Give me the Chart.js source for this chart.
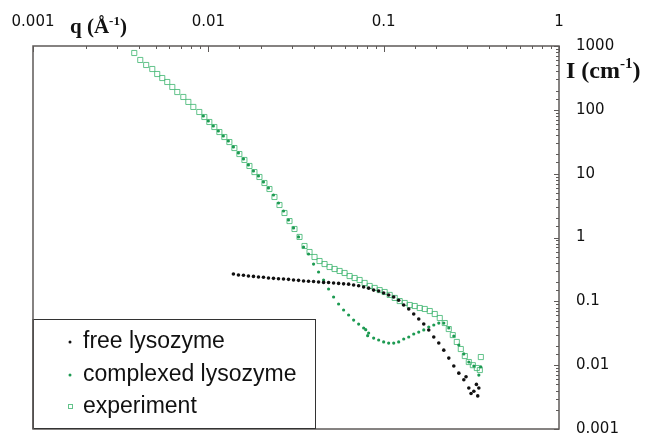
<!DOCTYPE html>
<html>
<head>
<meta charset="utf-8">
<script src="https://cdn.jsdelivr.net/npm/chart.js@4.4.1/dist/chart.umd.min.js"></script>
<style>
  html, body { margin: 0; padding: 0; background: #fff; }
  #wrap { width: 647px; height: 438px; position: relative; }
</style>
</head>
<body>
<div id="wrap"><canvas id="c"></canvas></div>
<script>
// free lysozyme (black dots)
const qFree = [0.01390,0.01485,0.01586,0.01693,0.01809,0.01932,0.02063,0.02203,0.02353,0.02513,
  0.02684,0.02866,0.03061,0.03269,0.03492,0.03729,0.03983,0.04253,0.04543,0.04851,
  0.05181,0.05533,0.05910,0.06312,0.06741,0.07199,0.07689,0.08211,0.08769,0.09366,
  0.1000,0.1068,0.1141,0.1218,0.1301,0.1390,0.1484,0.1585,0.1693,0.1808,
  0.1931,0.2062,0.2202,0.2352,0.2512,0.2683,0.2865,0.3060,0.3268,0.3490,
  0.2950,0.3150,0.3380,0.3440];
const iFree = [0.268,0.258,0.256,0.249,0.246,0.240,0.238,0.232,0.229,0.226,
  0.224,0.221,0.216,0.213,0.208,0.206,0.204,0.201,0.198,0.197,
  0.194,0.191,0.188,0.186,0.180,0.175,0.168,0.161,0.150,0.145,
  0.135,0.126,0.117,0.104,0.0876,0.0759,0.0633,0.0528,0.0441,0.0355,
  0.0276,0.0222,0.0172,0.0129,0.0097,0.0075,0.0059,0.0044,0.0039,0.0044,
  0.0066,0.0036,0.0050,0.0033];

// complexed lysozyme (green dots)
const qCplx = [0.00937,0.01000,0.01068,0.01141,0.01218,0.01301,0.01390,0.01485,0.01586,0.01693,
  0.01809,0.01932,0.02063,0.02203,0.02353,0.02513,0.02684,0.02866,0.03061,0.03269,
  0.03492,0.03729,0.03983,0.04253,0.04543,0.04851,0.05181,0.05533,0.05910,0.06312,
  0.06741,0.07199,0.07689,0.08211,0.08769,0.09366,0.1000,0.1068,0.1141,0.1218,
  0.1301,0.1390,0.1484,0.1585,0.1693,0.1808,0.1931,0.2062,0.2202,0.2352,
  0.2512,0.2683,0.2865,0.3060,0.3268,0.3490,0.3580,0.0790,0.0810];
const iCplx = [80.1,66.8,55.8,46.6,38.9,32.5,26.2,21.1,17.0,13.7,
  11.0,9.19,7.40,5.96,4.63,3.47,2.60,1.88,1.41,1.02,
  0.710,0.551,0.384,0.288,0.216,0.156,0.117,0.0908,0.0731,0.0611,
  0.0509,0.0441,0.0382,0.0319,0.0266,0.0248,0.0231,0.0222,0.0222,0.0231,
  0.0257,0.0276,0.0308,0.0330,0.0356,0.0396,0.0426,0.0457,0.0457,0.0382,
  0.0286,0.0207,0.0150,0.0112,0.0097,0.0070,0.0094,0.0360,0.0290];

// experiment (hollow squares)
const qExp = [0.00378,0.00409,0.00442,0.00479,0.00511,0.00546,0.00583,0.00623,0.00665,0.00720,
  0.00769,0.00821,0.00888,0.00949,0.01013,0.01082,0.01156,0.01234,0.01318,0.01408,
  0.01503,0.01606,0.01715,0.01832,0.01956,0.02089,0.02231,0.02383,0.02545,0.02718,
  0.02903,0.03100,0.03311,0.03536,0.03777,0.04033,0.04308,0.04601,0.04913,0.05248,
  0.05605,0.05985,0.06392,0.06827,0.07291,0.07787,0.08318,0.08884,0.09487,0.1013,
  0.1082,0.1156,0.1234,0.1318,0.1408,0.1503,0.1606,0.1715,0.1832,0.1956,
  0.2089,0.2231,0.2351,0.2479,0.2613,0.2754,0.2903,0.3059,0.3226,0.3399,
  0.3536,0.3583];
const iExp = [777,604,504,436,364,315,273,228,190,159,
  133,111,92.5,77.2,64.5,53.8,44.9,37.5,31.3,25.2,
  20.3,16.4,13.2,10.6,8.87,7.14,5.75,4.31,3.23,2.42,
  1.81,1.36,1.02,0.736,0.593,0.495,0.428,0.384,0.345,0.321,
  0.299,0.278,0.249,0.232,0.216,0.194,0.174,0.162,0.150,0.140,
  0.126,0.113,0.101,0.0942,0.0876,0.0845,0.0786,0.0759,0.0705,0.0633,
  0.0548,0.0457,0.0368,0.0296,0.0231,0.0179,0.0139,0.0112,0.0100,0.00902,
  0.00839,0.0134];

const seriesNames = ["free lysozyme","complexed lysozyme","experiment"];

const pts = (qs, is) => qs.map((q, k) => ({x: q, y: is[k]}));
const isDecade = v => { const l = Math.log10(v); return Math.abs(l - Math.round(l)) < 1e-6; };

// tick marks pointing inward, frame, axis titles and the boxed legend
const framePlugin = {
  id: 'frame',
  afterDraw(chart) {
    const ctx = chart.ctx, a = chart.chartArea;
    const xs = chart.scales.x, ys = chart.scales.y;
    ctx.save();
    ctx.strokeStyle = '#5e5a58';
    ctx.lineWidth = 1.5;
    ctx.strokeRect(a.left, a.top, a.right - a.left, a.bottom - a.top);
    ctx.lineWidth = 1;
    ctx.beginPath();
    xs.ticks.forEach(t => {
      const px = Math.round(xs.getPixelForValue(t.value)) + 0.5;
      const len = isDecade(t.value) ? 6 : 3;
      ctx.moveTo(px, a.top); ctx.lineTo(px, a.top + len);
    });
    ys.ticks.forEach(t => {
      const py = Math.round(ys.getPixelForValue(t.value)) + 0.5;
      const len = isDecade(t.value) ? 5 : 3;
      ctx.moveTo(a.right, py); ctx.lineTo(a.right - len, py);
    });
    ctx.stroke();

    // axis titles
    const title = (x, y, main, sup, tail, size) => {
      ctx.fillStyle = '#111';
      ctx.textBaseline = 'alphabetic';
      ctx.textAlign = 'left';
      ctx.font = `bold ${size}px "Liberation Serif"`;
      ctx.fillText(main, x, y);
      x += ctx.measureText(main).width;
      ctx.font = `bold ${Math.round(size * 0.62)}px "Liberation Serif"`;
      ctx.fillText(sup, x, y - size * 0.4);
      x += ctx.measureText(sup).width;
      ctx.font = `bold ${size}px "Liberation Serif"`;
      ctx.fillText(tail, x, y);
    };
    title(70, 33, 'q (Å', '-1', ')', 21);
    title(566, 78, 'I (cm', '-1', ')', 24);

    // legend
    const lx = 33, ly = 319, lw = 282, lh = 109;
    ctx.fillStyle = '#fff';
    ctx.fillRect(lx, ly, lw, lh);
    ctx.strokeStyle = '#333';
    ctx.lineWidth = 1;
    ctx.strokeRect(lx + 0.5, ly + 0.5, lw, lh);
    ctx.strokeStyle = '#5e5a58';
    ctx.lineWidth = 1.5;
    ctx.beginPath(); ctx.moveTo(a.left, ly); ctx.lineTo(a.left, a.bottom); ctx.stroke();
    const rows = [342, 375, 407];
    chart.data.datasets.forEach((ds, k) => {
      const y = rows[k];
      if (ds.pointStyle === 'rect') {
        ctx.strokeStyle = ds.borderColor; ctx.lineWidth = 1;
        ctx.strokeRect(68.5, y - 2.5, 4, 4);
      } else {
        ctx.fillStyle = ds.backgroundColor;
        ctx.beginPath(); ctx.arc(70, y, 1.5, 0, Math.PI * 2); ctx.fill();
      }
      ctx.fillStyle = '#111';
      ctx.font = '23px "Liberation Sans"';
      ctx.textBaseline = 'alphabetic';
      ctx.fillText(ds.label, 83, y + 6);
    });
    ctx.restore();
  }
};

new Chart(document.getElementById('c'), {
  type: 'scatter',
  data: {
    datasets: [
      { label: seriesNames[0], data: pts(qFree, iFree), pointStyle: 'circle', pointRadius: 1.8,
        backgroundColor: '#111', borderColor: '#111', borderWidth: 0, order: 1 },
      { label: seriesNames[1], data: pts(qCplx, iCplx), pointStyle: 'circle', pointRadius: 1.6,
        backgroundColor: '#1d9a52', borderColor: '#1d9a52', borderWidth: 0, order: 2 },
      { label: seriesNames[2], data: pts(qExp, iExp), pointStyle: 'rect', pointRadius: 3.6,
        backgroundColor: 'rgba(255,255,255,0)', borderColor: 'rgba(60,180,110,0.8)', borderWidth: 1, order: 3 }
    ]
  },
  options: {
    responsive: true,
    maintainAspectRatio: false,
    animation: false,
    layout: { padding: { left: 33, right: 0, top: 0, bottom: 9 } },
    plugins: { legend: { display: false }, tooltip: { enabled: false } },
    scales: {
      x: {
        type: 'logarithmic', position: 'top', min: 0.001, max: 1,
        grid: { display: false, drawTicks: false },
        border: { display: false },
        ticks: {
          autoSkip: false, maxRotation: 0, padding: 15, color: '#111',
          font: { family: '"DejaVu Sans"', size: 15 },
          callback: v => isDecade(v) ? String(v) : ''
        },
        afterFit: s => { s.height = 46; s.paddingLeft = 0; s.paddingRight = 0; }
      },
      y: {
        type: 'logarithmic', position: 'right', min: 0.001, max: 1000,
        grid: { display: false, drawTicks: false },
        border: { display: false },
        ticks: {
          autoSkip: false, padding: 17, color: '#111',
          font: { family: '"DejaVu Sans"', size: 15 },
          callback: v => isDecade(v) ? String(v) : ''
        },
        afterFit: s => { s.width = 88; s.paddingTop = 0; s.paddingBottom = 0; }
      }
    }
  },
  plugins: [framePlugin]
});
</script>
</body>
</html>
